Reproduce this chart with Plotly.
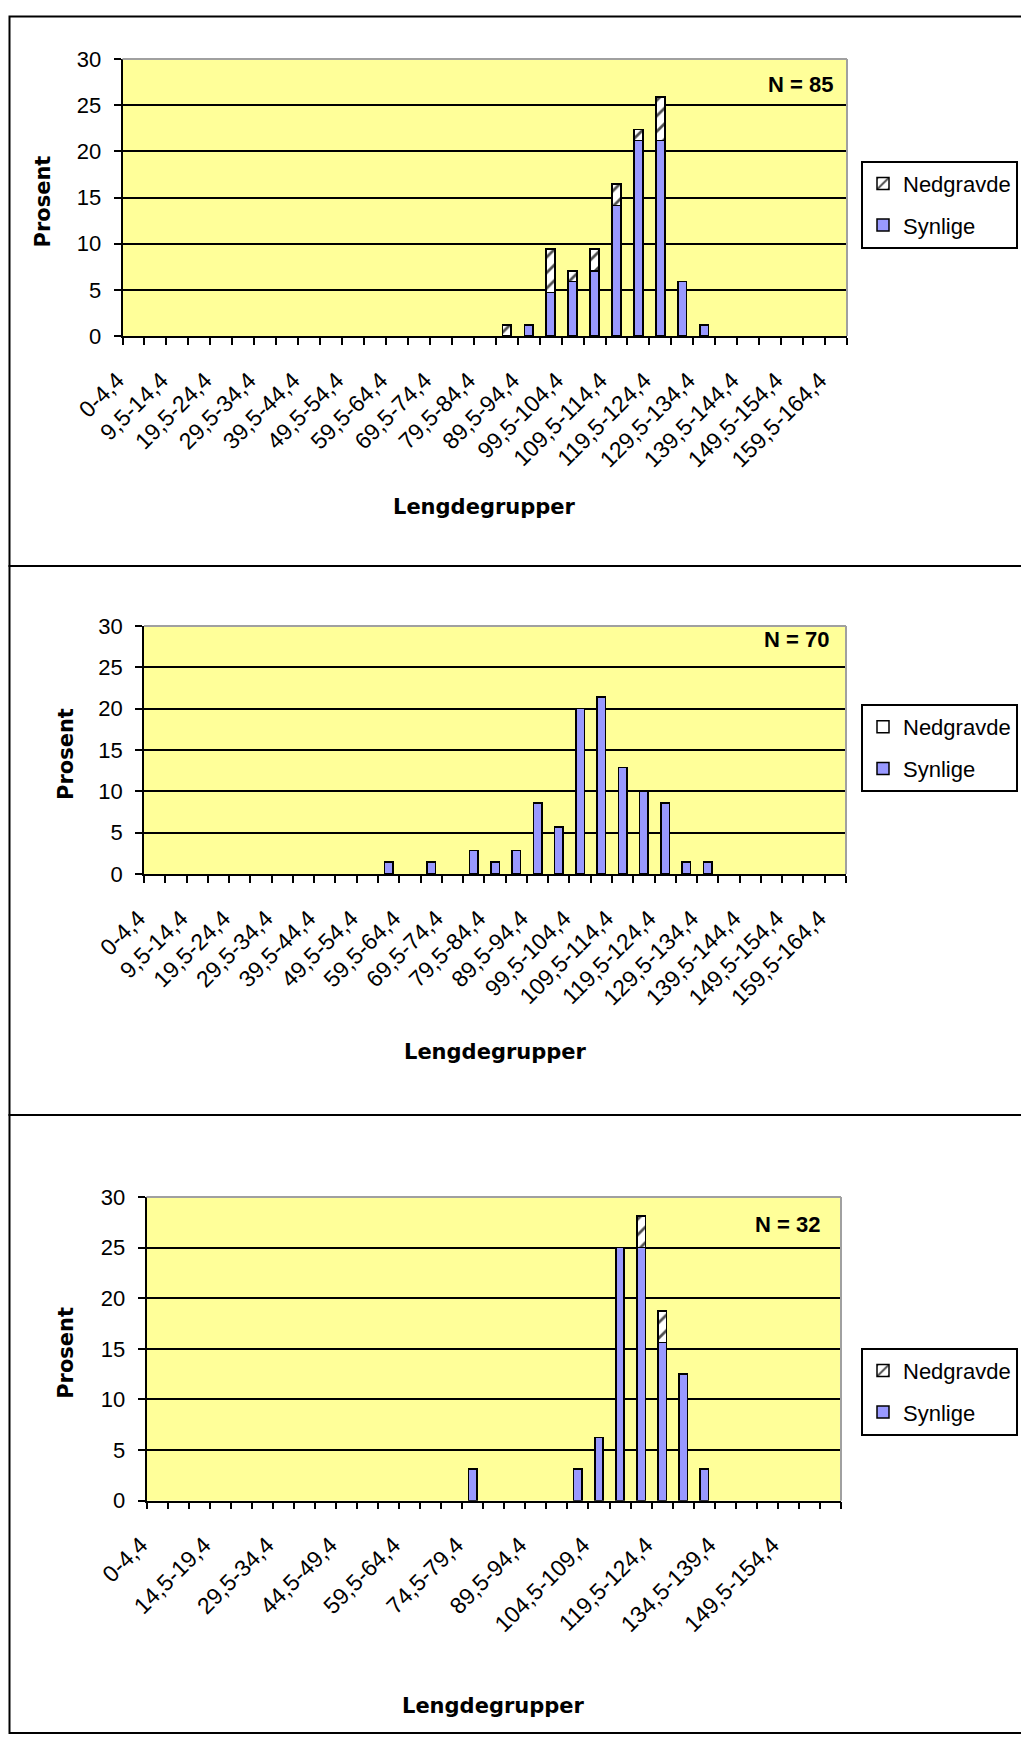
import plotly.graph_objects as go

# Page is 1029x1737; the HTML body has an 8px default margin, so the figure
# itself is made 8px smaller and every page position is shifted by OFF.
PAGE_W, PAGE_H = 1029, 1737
OFF = 8
FW, FH = PAGE_W - OFF, PAGE_H - OFF

# ---------------- data ----------------
categories = ["0-4,4", "4,5-9,4", "9,5-14,4", "14,5-19,4", "19,5-24,4", "24,5-29,4",
              "29,5-34,4", "34,5-39,4", "39,5-44,4", "44,5-49,4", "49,5-54,4", "54,5-59,4",
              "59,5-64,4", "64,5-69,4", "69,5-74,4", "74,5-79,4", "79,5-84,4", "84,5-89,4",
              "89,5-94,4", "94,5-99,4", "99,5-104,4", "104,5-109,4", "109,5-114,4",
              "114,5-119,4", "119,5-124,4", "124,5-129,4", "129,5-134,4", "134,5-139,4",
              "139,5-144,4", "144,5-149,4", "149,5-154,4", "154,5-159,4", "159,5-164,4"]

labels_every2 = ["0-4,4", "9,5-14,4", "19,5-24,4", "29,5-34,4", "39,5-44,4", "49,5-54,4",
                 "59,5-64,4", "69,5-74,4", "79,5-84,4", "89,5-94,4", "99,5-104,4",
                 "109,5-114,4", "119,5-124,4", "129,5-134,4", "139,5-144,4",
                 "149,5-154,4", "159,5-164,4"]
labels_every3 = ["0-4,4", "14,5-19,4", "29,5-34,4", "44,5-49,4", "59,5-64,4", "74,5-79,4",
                 "89,5-94,4", "104,5-109,4", "119,5-124,4", "134,5-139,4", "149,5-154,4"]

# Chart 1 (N = 85)
synlige_1 = [0, 0, 0, 0, 0, 0, 0, 0, 0, 0, 0, 0, 0, 0, 0, 0, 0,
             0, 1.18, 4.71, 5.88, 7.06, 14.12, 21.18, 21.18, 5.88, 1.18,
             0, 0, 0, 0, 0, 0]
nedgravde_1 = [0, 0, 0, 0, 0, 0, 0, 0, 0, 0, 0, 0, 0, 0, 0, 0, 0,
               1.18, 0, 4.71, 1.18, 2.35, 2.35, 1.18, 4.71, 0, 0,
               0, 0, 0, 0, 0, 0]
# Chart 2 (N = 70)
synlige_2 = [0, 0, 0, 0, 0, 0, 0, 0, 0, 0, 0,
             1.43, 0, 1.43, 0, 2.86, 1.43, 2.86, 8.57, 5.71, 20.0, 21.43, 12.86,
             10.0, 8.57, 1.43, 1.43, 0, 0, 0, 0, 0, 0]
nedgravde_2 = [0] * 33
# Chart 3 (N = 32)
synlige_3 = [0, 0, 0, 0, 0, 0, 0, 0, 0, 0, 0, 0, 0, 0, 0,
             3.13, 0, 0, 0, 0, 3.13, 6.25, 25.0, 25.0, 15.63, 12.5, 3.13,
             0, 0, 0, 0, 0, 0]
nedgravde_3 = [0, 0, 0, 0, 0, 0, 0, 0, 0, 0, 0, 0, 0, 0, 0,
               0, 0, 0, 0, 0, 0, 0, 0, 3.13, 3.13, 0, 0,
               0, 0, 0, 0, 0, 0]

n_labels = ["N = 85", "N = 70", "N = 32"]

# ---------------- layout helpers (page pixels -> paper fractions) ----------------
def px_x(v):
    return (v - OFF) / FW

def px_y(v):
    return 1 - (v - OFF) / FH

def nz(vals):
    # empty groups are not drawn (no zero-height outlines)
    return [v if v else None for v in vals]

YELLOW = "#FFFF99"
BLUE = "#9999FF"
YTICKFONT = dict(family="Liberation Sans, Arial, sans-serif", size=22, color="black")
XTICKFONT = dict(family="Liberation Sans, Arial, sans-serif", size=23, color="black")
TITLEFONT = dict(family="DejaVu Sans, sans-serif", size=21, color="black", weight="bold")
NFONT = dict(family="Liberation Sans, Arial, sans-serif", size=22, color="black", weight="bold")

panels = [
    dict(l=122.5, r=847, t=59, b=336, pt=16.5, pb=566, lt=160.7, nx=835, ny=85,
         ytx=42, xty=507, syn=synlige_1, ned=nedgravde_1, labels=labels_every2, pattern=True),
    dict(l=144, r=846, t=626, b=874, pt=566, pb=1115, lt=704, nx=831, ny=640,
         ytx=66, xty=1052, syn=synlige_2, ned=nedgravde_2, labels=labels_every2, pattern=False),
    dict(l=146.5, r=841, t=1197, b=1500.7, pt=1115, pb=1733, lt=1347.7, nx=822, ny=1224,
         ytx=66, xty=1706, syn=synlige_3, ned=nedgravde_3, labels=labels_every3, pattern=True),
]

fig = go.Figure()
shapes = []
annotations = []
layout = dict(
    width=FW, height=FH,
    margin=dict(l=0, r=0, t=0, b=0, autoexpand=False),
    paper_bgcolor="white",
    plot_bgcolor=YELLOW,
    barmode="stack",
    bargap=0.6,
    showlegend=True,
)

for i, p in enumerate(panels):
    k = i + 1
    xa = "x" if k == 1 else f"x{k}"
    ya = "y" if k == 1 else f"y{k}"
    lg = "legend" if k == 1 else f"legend{k}"

    fig.add_trace(go.Bar(
        x=categories, y=nz(p["syn"]), name="Synlige",
        marker=dict(color=BLUE, line=dict(color="black", width=1.5)),
        xaxis=xa, yaxis=ya, legend=lg, legendgroup=f"s{k}", legendrank=2,
    ))
    if p["pattern"]:
        ned_marker = dict(color="white", line=dict(color="black", width=1.5),
                          pattern=dict(shape="/", fgcolor="#505050", bgcolor="white",
                                       size=11, solidity=0.25, fillmode="replace"))
    else:
        ned_marker = dict(color="white", line=dict(color="black", width=1.5))
    fig.add_trace(go.Bar(
        x=categories, y=nz(p["ned"]), name="Nedgravde",
        marker=ned_marker,
        xaxis=xa, yaxis=ya, legend=lg, legendgroup=f"n{k}", legendrank=1,
    ))

    ticktext = [c if c in p["labels"] else "" for c in categories]
    xkey = "xaxis" if k == 1 else f"xaxis{k}"
    ykey = "yaxis" if k == 1 else f"yaxis{k}"
    layout[xkey] = dict(
        domain=[px_x(p["l"]), px_x(p["r"])],
        anchor=ya, type="category",
        range=[-0.5, len(categories) - 0.5],
        tickmode="array", tickvals=categories, ticktext=ticktext,
        tickson="boundaries", ticks="outside", ticklen=7, tickwidth=1.5, tickcolor="black",
        tickangle=-45, tickfont=XTICKFONT,
        ticklabelstandoff=20, ticklabelshift=-16,
        showline=True, linecolor="black", linewidth=1.5,
        showgrid=False, zeroline=False, fixedrange=True,
    )
    layout[ykey] = dict(
        domain=[px_y(p["b"]), px_y(p["t"])],
        anchor=xa, range=[0, 30],
        tickmode="array", tickvals=[0, 5, 10, 15, 20, 25, 30],
        ticks="outside", ticklen=7, tickwidth=1.5, tickcolor="black",
        tickfont=YTICKFONT, ticklabelstandoff=8,
        showline=True, linecolor="black", linewidth=1.5,
        showgrid=True, gridcolor="black", gridwidth=2,
        zeroline=False, fixedrange=True,
    )
    layout[lg] = dict(
        x=px_x(861), y=px_y(p["lt"]), xanchor="left", yanchor="top",
        bgcolor="white", bordercolor="black", borderwidth=2,
        font=dict(family="Liberation Sans, Arial, sans-serif", size=22, color="black"),
        traceorder="grouped", tracegroupgap=10,
    )

    # panel border
    shapes.append(dict(type="rect", xref="paper", yref="paper",
                       x0=px_x(9.5), x1=px_x(1040), y0=px_y(p["pb"]), y1=px_y(p["pt"]),
                       line=dict(color="black", width=2), layer="above"))
    # gray plot-area border (top & right)
    shapes.append(dict(type="line", xref="paper", yref="paper",
                       x0=px_x(p["l"]), x1=px_x(p["r"]), y0=px_y(p["t"]), y1=px_y(p["t"]),
                       line=dict(color="#A0A0A0", width=2), layer="above"))
    shapes.append(dict(type="line", xref="paper", yref="paper",
                       x0=px_x(p["r"]), x1=px_x(p["r"]), y0=px_y(p["b"]), y1=px_y(p["t"]),
                       line=dict(color="#A0A0A0", width=2), layer="above"))

    annotations.append(dict(text=n_labels[i], xref="paper", yref="paper",
                            x=px_x(p["nx"]), y=px_y(p["ny"]), xanchor="right", yanchor="middle",
                            showarrow=False, font=NFONT))
    annotations.append(dict(text="Prosent", xref="paper", yref="paper",
                            x=px_x(p["ytx"]), y=px_y((p["t"] + p["b"]) / 2 + 4),
                            xanchor="center", yanchor="middle", textangle=-90,
                            showarrow=False, font=TITLEFONT))
    annotations.append(dict(text="Lengdegrupper", xref="paper", yref="paper",
                            x=px_x((p["l"] + p["r"]) / 2), y=px_y(p["xty"]),
                            xanchor="center", yanchor="middle",
                            showarrow=False, font=TITLEFONT))

layout["shapes"] = shapes
layout["annotations"] = annotations
fig.update_layout(**layout)

fig.write_html("out.html", config={"displayModeBar": False})
